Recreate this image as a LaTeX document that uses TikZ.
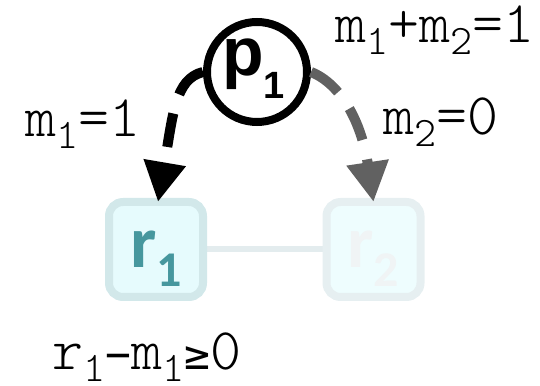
\documentclass[tikz,border=0pt]{standalone}
\usepackage{fontspec}
\newfontfamily\arialb{Liberation Sans}
\newfontfamily\carlito{Carlito}
\newfontfamily\lmlight{Latin Modern Mono Light}
\newfontfamily\djm{DejaVu Sans Mono}
\usetikzlibrary{arrows.meta,backgrounds}
\definecolor{tealtxt}{HTML}{46979E}
\definecolor{boxfill}{HTML}{E6FBFD}
\definecolor{boxline}{HTML}{D2E8EA}
\definecolor{fadefill}{HTML}{EEFDFE}
\definecolor{fadeline}{HTML}{E6EFF1}
\definecolor{fadetxt}{HTML}{F0F4F5}
\definecolor{linkcol}{HTML}{E3ECEE}
\newcommand{\msub}[1]{\raisebox{-12pt}{\fontsize{42}{42}\selectfont #1}}
\newcommand{\symb}[1]{{\djm\fontsize{43}{43}\selectfont #1}}
\begin{document}
\begin{tikzpicture}[x=1pt,y=1pt,
  lbl/.style={inner sep=0, anchor=base west, font=\lmlight\fontsize{59}{60}\selectfont},
  rbox/.style={draw=boxline, fill=boxfill, line width=8, rounded corners=14,
    minimum width=94, minimum height=95, inner sep=0, outer sep=0},
  fadebox/.style={rbox, draw=fadeline, fill=fadefill},
  rlabel/.style={inner sep=0, anchor=base west, font=\carlito\bfseries\fontsize{74}{74}\selectfont},
  place/.style={circle, draw=black, line width=8, minimum size=100, inner sep=0},
  arc/.style={line width=10, dash pattern=on 34 off 20, -{Triangle[width=40pt,length=40pt]}}
]
\useasboundingbox (0,0) rectangle (540,385);

\node[rbox] (r1) at (156,135.5) {};
\node[fadebox] (r2) at (373.5,135.5) {};
\node[rlabel, text=tealtxt] (r1lbl) at (130,117) {r\raisebox{-19pt}{\fontsize{50}{50}\selectfont 1}};
\node[rlabel, text=fadetxt] (r2lbl) at (347,117) {r\raisebox{-19pt}{\fontsize{50}{50}\selectfont 2}};

\begin{scope}[on background layer]
  \draw[line width=6, linkcol] (r1.east) -- (r2.west);
\end{scope}

\node[place] (p1) at (257,313) {};
\node[inner sep=0, anchor=base west, font=\arialb\bfseries\fontsize{68}{68}\selectfont] (p1lbl) at (222,309)
  {p\raisebox{-23pt}{\fontsize{38}{38}\selectfont 1}};

\draw[arc, black] (p1.west) .. controls +(-28,-7) and +(15,88) .. ([xshift=2]r1.north);
\draw[arc, black!62] (p1.east) .. controls +(30,-12) and +(-12,80) .. (r2.north);

\node[lbl] (t1) at (335,342) {m\msub{1}+m\msub{2}=1};
\node[lbl] (t2) at (383,250) {m\msub{2}=0};
\node[lbl] (t3) at (25,248) {m\msub{1}=1};
\node[lbl] (t4) at (52,16) {r\msub{1}\symb{−}m\msub{1}\symb{≥}0};
\end{tikzpicture}
\end{document}
